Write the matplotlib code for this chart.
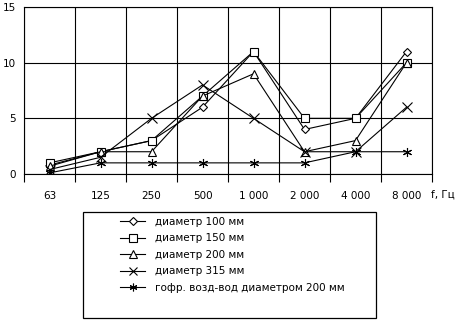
import numpy as np
import matplotlib
matplotlib.use("Agg")
import matplotlib.pyplot as plt
from matplotlib.patches import Rectangle

freqs = ["63", "125", "250", "500", "1 000", "2 000", "4 000", "8 000"]
d100 = [0.8, 2, 3, 6, 11, 4, 5, 11]
d150 = [1, 2, 3, 7, 11, 5, 5, 10]
d200 = [0.7, 2, 2, 7, 9, 2, 3, 10]
d315 = [0.4, 1.5, 5, 8, 5, 2, 2, 6]
gofr = [0.1, 1, 1, 1, 1, 1, 2, 2]

labels = ["диаметр 100 мм", "диаметр 150 мм", "диаметр 200 мм",
          "диаметр 315 мм", "гофр. возд-вод диаметром 200 мм"]


def main():
    fig = plt.figure(figsize=(4.68, 3.2), dpi=100)
    ax = fig.add_axes([24 / 468, 1 - 174 / 320, 408 / 468, 167 / 320])

    x = np.arange(len(freqs))
    series = [d100, d150, d200, d315, gofr]
    markers = ["D", "s", "^", "x", (6, 2, 0)]
    sizes = [4.5, 6, 6, 6.5, 6.5]
    for vals, m, s, lab in zip(series, markers, sizes, labels):
        ax.plot(x, vals, color="black", lw=0.8, marker=m, ms=s,
                mfc="white", mec="black", mew=0.8, label=lab)

    ax.set_xlim(-0.5, len(freqs) - 0.5)
    ax.set_ylim(0, 15)
    ax.set_xticks(x)
    ax.set_xticklabels(freqs, fontsize=7.5)
    ax.set_xticks(np.arange(-0.5, len(freqs), 1), minor=True)
    ax.tick_params(axis="x", which="major", length=0, pad=12)
    ax.tick_params(axis="x", which="minor", length=6, width=0.8)
    ax.set_yticks([0, 5, 10, 15])
    ax.tick_params(axis="y", length=0, labelsize=7.5, pad=6)
    ax.grid(True, which="minor", axis="x", color="black", lw=0.8)
    ax.grid(True, which="major", axis="y", color="black", lw=0.8)
    for sp in ax.spines.values():
        sp.set_linewidth(0.8)

    fig.text(443 / 468, 1 - 195 / 320, "f, Гц", fontsize=7.5,
             ha="center", va="center")

    fig.patches.append(Rectangle((83 / 468, 1 - 318 / 320), 293 / 468,
                                 106 / 320, transform=fig.transFigure,
                                 fill=False, ec="black", lw=0.9))
    fig.legend(loc="upper left", bbox_to_anchor=(120 / 468, 1 - 217 / 320),
               frameon=False, fontsize=7.5, borderpad=0, borderaxespad=0,
               handlelength=2.4, handletextpad=1.0, labelspacing=0.62,
               markerscale=0.85)

    fig.savefig("out.png", dpi=100)


if __name__ == "__main__":
    main()
